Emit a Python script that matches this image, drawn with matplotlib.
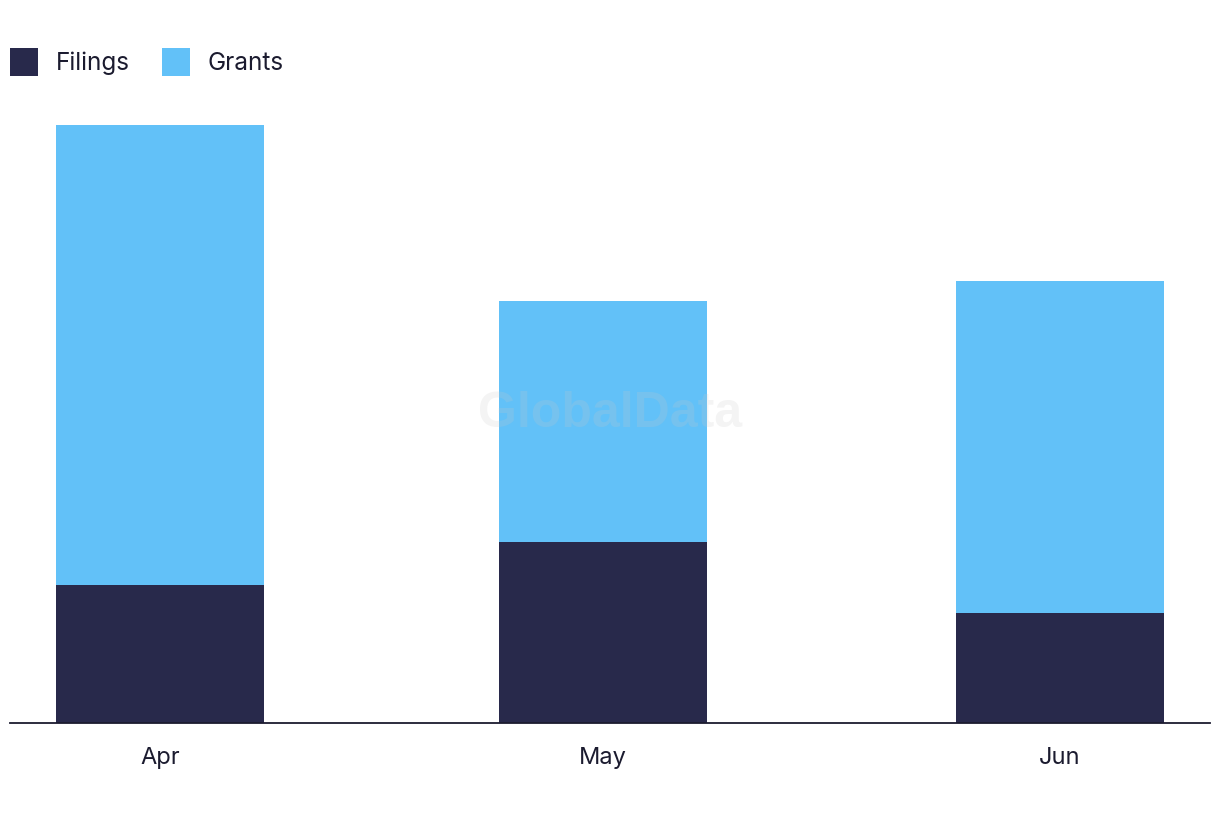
import numpy as np
import matplotlib.pyplot as plt
from datetime import date

months = ['Apr', 'May', 'Jun']
month_starts = [date(2024, 4, 1), date(2024, 5, 1), date(2024, 6, 1)]
filings = [15, 19.7, 12]
grants = [50, 26.2, 36]

filings_color = '#28294b'
grants_color = '#62c1f8'
text_color = '#1b1b2f'

# bars sit on a time axis, so the gaps follow the month lengths
x = np.array([(d - month_starts[0]).days for d in month_starts])

fig = plt.figure(figsize=(12.2, 8.22), dpi=100)
ax = fig.add_axes([10 / 1220, 99 / 822, 1200 / 1220, 644 / 822])

width = 14.1
ax.bar(x, filings, width=width, color=filings_color, label='Filings', zorder=2)
ax.bar(x, grants, width=width, bottom=filings, color=grants_color, label='Grants', zorder=2)

ax.set_xlim(x[0] - 10.2, x[-1] + 10.2)
ax.set_ylim(0, 70)

for s in ['top', 'right', 'left']:
    ax.spines[s].set_visible(False)
ax.spines['bottom'].set_color(text_color)
ax.spines['bottom'].set_linewidth(1.3)
ax.set_yticks([])
ax.set_xticks(x)
ax.set_xticklabels(months, fontsize=17, color=text_color, family='Inter')
ax.tick_params(axis='x', length=0, pad=17)

ax.text(0.5, 0.48, 'GlobalData', transform=ax.transAxes, ha='center', va='center',
        fontsize=36, fontweight='bold', family='Liberation Sans',
        color='#c8c8c8', alpha=0.2, zorder=5)

leg = fig.legend(loc='upper left', bbox_to_anchor=(10 / 1220, 1 - 48 / 822), ncol=2, frameon=False,
                 borderpad=0, borderaxespad=0,
                 handlelength=1.15, handleheight=1.38, handletextpad=0.75, columnspacing=1.3,
                 prop={'family': 'Inter', 'size': 17.5})
for t in leg.get_texts():
    t.set_color(text_color)

fig.savefig('out.png', dpi=100)
